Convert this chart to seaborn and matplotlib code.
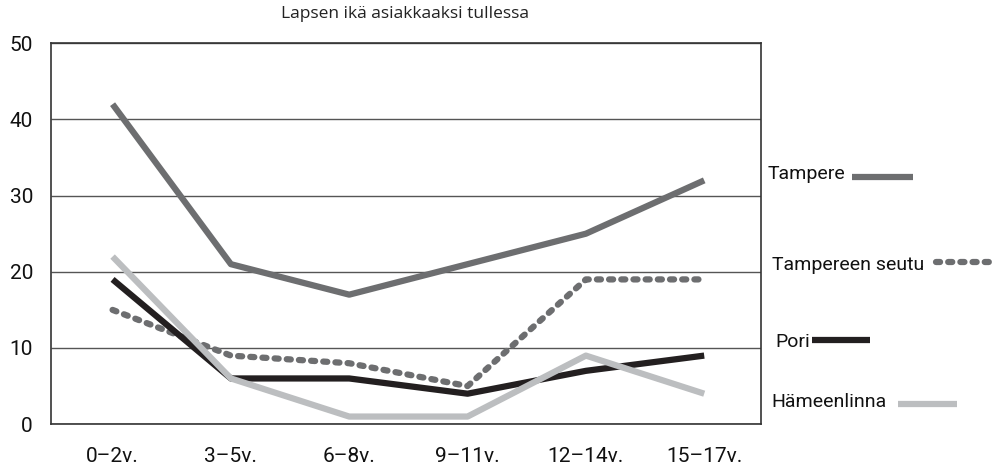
import pandas as pd
import seaborn as sns
import matplotlib.pyplot as plt
from matplotlib.lines import Line2D

# data
ages = ["0–2v.", "3–5v.", "6–8v.", "9–11v.", "12–14v.", "15–17v."]
tampere = [42, 21, 17, 21, 25, 32]
tampereen_seutu = [15, 9, 8, 5, 19, 19]
pori = [19, 6, 6, 4, 7, 9]
hameenlinna = [22, 6, 1, 1, 9, 4]
series_names = ["Tampere", "Tampereen seutu", "Pori", "Hämeenlinna"]
y_ticks = [0, 10, 20, 30, 40, 50]

df = pd.DataFrame({"ika": list(range(len(ages))) * 4,
                   "arvo": tampere + tampereen_seutu + pori + hameenlinna,
                   "paikka": [n for n in series_names for _ in ages]})

sns.set_style("white")
plt.rcParams['font.family'] = ['Roboto', 'DejaVu Sans']
plt.rcParams['lines.dash_capstyle'] = 'round'
plt.rcParams['lines.solid_capstyle'] = 'butt'

colors = {"Tampere": "#6d6e70", "Tampereen seutu": "#6d6e70",
          "Pori": "#231f20", "Hämeenlinna": "#bcbec0"}
dashes = {"Tampere": "", "Tampereen seutu": (0.65, 1.3), "Pori": "", "Hämeenlinna": ""}
lw = 4.5

fig = plt.figure(figsize=(9.97, 4.75), dpi=100)
ax = fig.add_axes([0.0512, 0.107, 0.7121, 0.802])
ax.set_axisbelow(True)
ax.grid(axis="y", color="#555555", lw=1)

sns.lineplot(data=df, x="ika", y="arvo", hue="paikka", style="paikka",
             palette=colors, dashes=dashes, linewidth=lw, legend=False, ax=ax)
for ln in ax.lines:
    ln.set_dash_capstyle("round")
    ln.set_solid_capstyle("butt")

ax.set_xlim(-0.52, 5.48)
ax.set_ylim(0, 50)
ax.set_yticks(y_ticks)
ax.set_xticks(range(len(ages)))
ax.set_xticklabels(ages)
ax.tick_params(axis="y", length=0, pad=13, labelsize=15, labelcolor="#111111")
ax.tick_params(axis="x", length=8.6, width=1, color="#333333", direction="out",
               pad=8, labelsize=15, labelcolor="#111111")
ax.set_xlabel("")
ax.set_ylabel("")
for s in ax.spines.values():
    s.set_color("#333333")
    s.set_linewidth(1.2)

fig.text(0.406, 0.97, "Lapsen ikä asiakkaaksi tullessa", ha="center", va="center",
         fontsize=12.5, color="#222222", family=['Open Sans', 'DejaVu Sans'])

# labels at the right side
W, H = 997, 475
labels = [("Tampere", 768, 174, 852, 913, 177),
          ("Tampereen seutu", 772, 265, 936, 995, 262),
          ("Pori", 775, 342, 812, 870, 340),
          ("Hämeenlinna", 771, 402, 898, 957, 404)]
for name, tx, ty, x0, x1, ly in labels:
    fig.text(tx / W, 1 - ty / H, name, ha="left", va="center", fontsize=14,
             color="#111111")
    ln = Line2D([x0 / W, x1 / W], [1 - ly / H, 1 - ly / H], transform=fig.transFigure,
                color=colors[name], lw=lw)
    if dashes[name]:
        ln.set_dashes(dashes[name])
    fig.add_artist(ln)

plt.savefig("out.png", dpi=100)
